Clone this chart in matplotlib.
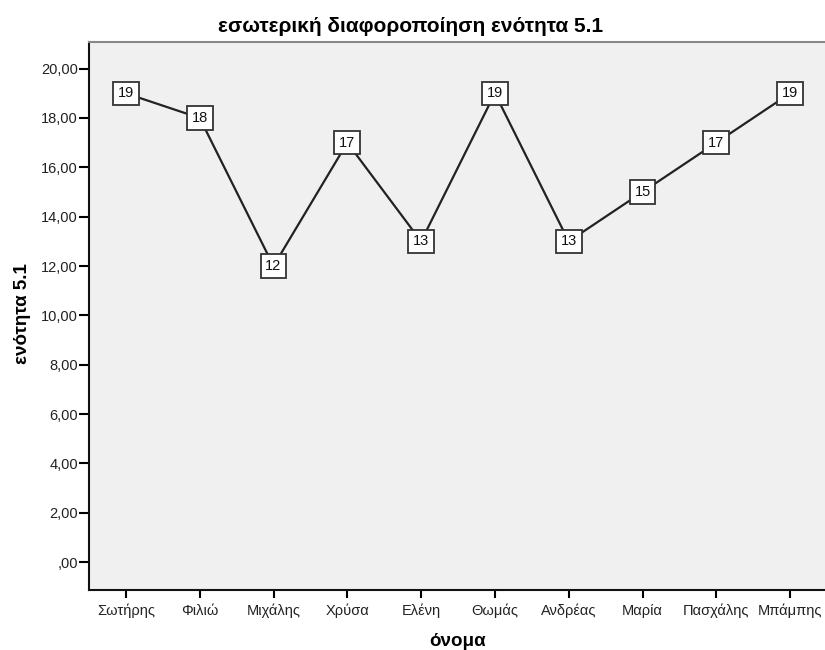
import matplotlib
matplotlib.use("Agg")
import matplotlib.pyplot as plt
from matplotlib.ticker import FuncFormatter

names = ["Σωτήρης", "Φιλιώ", "Μιχάλης", "Χρύσα", "Ελένη",
         "Θωμάς", "Ανδρέας", "Μαρία", "Πασχάλης", "Μπάμπης"]
scores = [19, 18, 12, 17, 13, 19, 13, 15, 17, 19]
yticks = [0, 2, 4, 6, 8, 10, 12, 14, 16, 18, 20]

plt.rcParams['font.family'] = ['Liberation Sans', 'DejaVu Sans']

fig = plt.figure(figsize=(8.25, 6.5), dpi=100)
ax = fig.add_axes([89 / 825, 1 - 590 / 650, (827 - 89) / 825, (590 - 41.5) / 650])
ax.set_facecolor('#f0f0f0')

x = list(range(len(names)))
ax.plot(x, scores, color='#222222', lw=1.6, zorder=2)
for xi, v in zip(x, scores):
    ax.text(xi, v, str(v), ha='center', va='center', fontsize=10.5, color='#111111',
            zorder=3,
            bbox=dict(boxstyle='square,pad=0.33', fc='white', ec='#333333', lw=1.3))


def comma_fmt(v, pos):
    s = f"{v:.2f}".replace('.', ',')
    return s[1:] if s.startswith('0') else s


ax.set_xlim(-0.5, len(names) - 0.5)
ax.set_ylim(-1.13, 21.1)
ax.set_xticks(x)
ax.set_xticklabels(names, fontsize=10.5, color='#222222')
ax.set_yticks(yticks)
ax.yaxis.set_major_formatter(FuncFormatter(comma_fmt))
ax.tick_params(axis='y', labelsize=10.5, labelcolor='#222222', length=7, width=1.5,
               direction='out', pad=1)
ax.tick_params(axis='x', length=6, width=1.5, direction='out', pad=4)

for s in ['left', 'bottom']:
    ax.spines[s].set_color('#111111')
    ax.spines[s].set_linewidth(1.5)
ax.spines['top'].set_color('#888888')
ax.spines['top'].set_linewidth(1.5)
ax.spines['right'].set_visible(False)

fig.text(411 / 825, 1 - 32 / 650, "εσωτερική διαφοροποίηση ενότητα 5.1",
         ha='center', va='baseline', fontsize=15, fontweight='bold')
fig.text(458 / 825, 1 - 646 / 650, "όνομα", ha='center', va='baseline',
         fontsize=13.5, fontweight='bold')
fig.text(23 / 825, 1 - 314 / 650, "ενότητα 5.1", ha='center', va='center',
         fontsize=13.5, fontweight='bold', rotation=90)

fig.savefig("out.png", dpi=100)
